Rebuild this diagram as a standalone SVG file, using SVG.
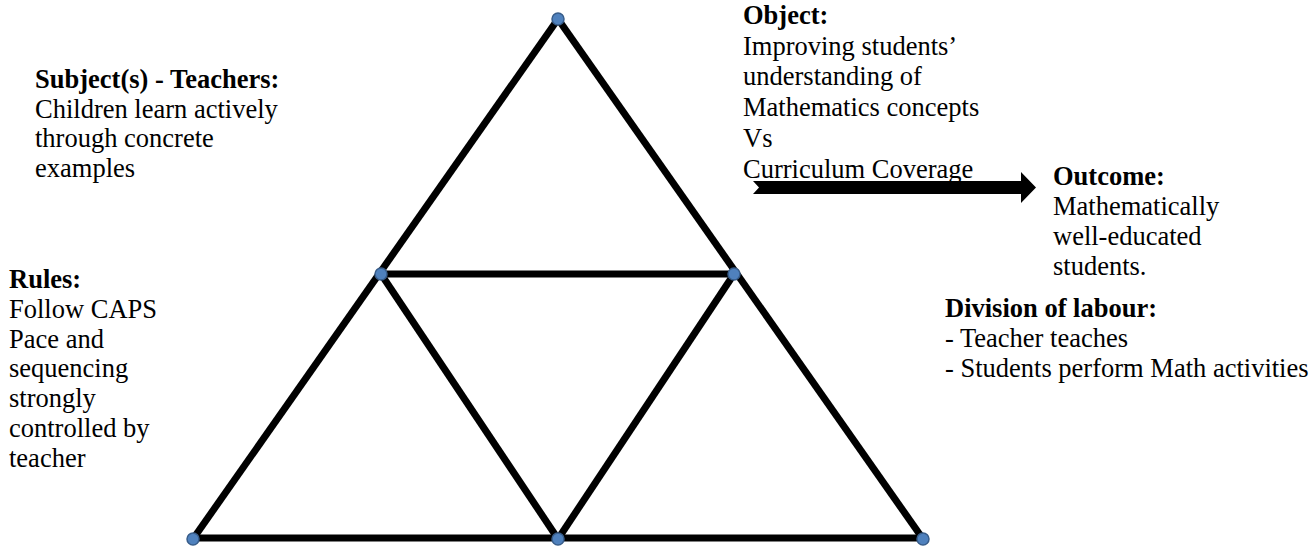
<svg xmlns="http://www.w3.org/2000/svg" width="1310" height="548" viewBox="0 0 1310 548">
<style>
.t{font-family:"Liberation Serif","Times New Roman",serif;font-size:26.5px;fill:#000}
.b{font-weight:bold}
.edge{stroke:#000;stroke-width:7;stroke-linecap:butt;fill:none}
.pt{fill:#4F81BD;stroke:#385D8A;stroke-width:1.5}
</style>
<rect width="1310" height="548" fill="#fff"/>
<g id="connectors">
<line class="edge" x1="558" y1="19" x2="193" y2="539"/>
<line class="edge" x1="558" y1="19" x2="923" y2="539"/>
<line class="edge" x1="193" y1="538" x2="923" y2="538"/>
<line class="edge" x1="381" y1="274" x2="734" y2="274"/>
<line class="edge" x1="381" y1="274" x2="558" y2="539"/>
<line class="edge" x1="734" y1="274" x2="558" y2="539"/>
<path d="M753,181 L1021,181 L1021,172 L1036,187.5 L1021,203 L1021,194 L753,194 L759,187.5 Z" fill="#000"/>
</g>
<g id="vertices">
<circle class="pt" cx="558" cy="19" r="6"/>
<circle class="pt" cx="381" cy="274" r="6"/>
<circle class="pt" cx="734" cy="274" r="6"/>
<circle class="pt" cx="193" cy="539" r="6"/>
<circle class="pt" cx="558" cy="539" r="6"/>
<circle class="pt" cx="923" cy="539" r="6"/>
</g>
<g id="subject">
<text class="t b" x="35" y="88">Subject(s) - Teachers:</text>
<text class="t" x="35" y="118">Children learn actively</text>
<text class="t" x="35" y="147">through concrete</text>
<text class="t" x="35" y="177">examples</text>
</g>
<g id="object">
<text class="t b" x="743" y="24">Object:</text>
<text class="t" x="743" y="55">Improving students’</text>
<text class="t" x="743" y="85">understanding of</text>
<text class="t" x="743" y="116">Mathematics concepts</text>
<text class="t" x="743" y="147">Vs</text>
<text class="t" x="743" y="178">Curriculum Coverage</text>
</g>
<g id="outcome">
<text class="t b" x="1053" y="185">Outcome:</text>
<text class="t" x="1053" y="215">Mathematically</text>
<text class="t" x="1053" y="245">well-educated</text>
<text class="t" x="1053" y="275">students.</text>
</g>
<g id="rules">
<text class="t b" x="9" y="288">Rules:</text>
<text class="t" x="9" y="318">Follow CAPS</text>
<text class="t" x="9" y="348">Pace and</text>
<text class="t" x="9" y="377">sequencing</text>
<text class="t" x="9" y="407">strongly</text>
<text class="t" x="9" y="437">controlled by</text>
<text class="t" x="9" y="467">teacher</text>
</g>
<g id="division">
<text class="t b" x="945" y="317">Division of labour:</text>
<text class="t" x="945" y="347">- Teacher teaches</text>
<text class="t" x="945" y="377">- Students perform Math activities</text>
</g>
</svg>
